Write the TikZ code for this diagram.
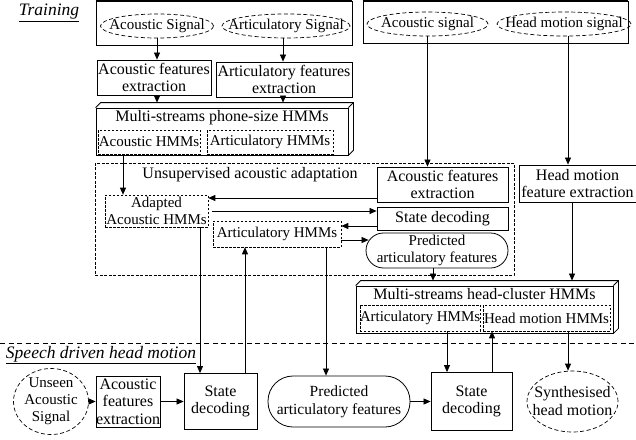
\documentclass[tikz,border=0pt]{standalone}
\usepackage{fontspec}
\setmainfont{Liberation Serif}
\usetikzlibrary{shapes.geometric, arrows.meta, calc}

\begin{document}
\begin{tikzpicture}[
    x=1pt, y=-1pt,
    font=\fontsize{16}{17.5}\selectfont,
    every node/.style={inner sep=0pt, align=center},
    block/.style={draw, line width=0.8pt, rectangle},
    model/.style={draw, line width=0.6pt, dash pattern=on 2.5pt off 1.5pt, rectangle, font=\fontsize{15}{17}\selectfont},
    region/.style={draw, line width=0.6pt, dash pattern=on 3pt off 1.5pt, rectangle},
    signal/.style={draw, line width=0.7pt, dash pattern=on 4pt off 2.5pt, ellipse, inner xsep=-20pt, inner ysep=-12pt, font=\fontsize{15}{17}\selectfont},
    feat/.style={draw, line width=0.8pt, rectangle, font=\fontsize{15}{17}\selectfont},
    section/.style={font=\fontsize{17.5}{19}\selectfont\itshape},
    flow/.style={-{Triangle[length=7pt,width=6pt]}, line width=0.7pt},
]
    \useasboundingbox (0,0) rectangle (636,439);

    % Section labels
    \node[section] (train) at (49,13) {\underline{Training}};
    \node[section] (speech) at (101,355) {\underline{Speech driven head motion}};
    \coordinate (sepl) at (0,343);
    \coordinate (sepr) at (636,343);
    \draw[line width=0.6pt, dash pattern=on 5pt off 3.5pt] (sepl) -- (sepr);

    % Training sources
    \node[block, minimum width=256, minimum height=44] (trainsrc) at (224,23) {};
    \draw[line width=2pt] (trainsrc.north west) -- (trainsrc.north east);
    \node[signal, minimum width=113, minimum height=24] (acsig) at (157,26) {Acoustic Signal};
    \node[signal, minimum width=128, minimum height=24] (artsig) at (286,26) {Articulatory Signal};

    \node[block, minimum width=265, minimum height=42] (headsrc) at (495.5,22) {};
    \draw[line width=2pt] (headsrc.north west) -- (headsrc.north east);
    \node[signal, minimum width=121, minimum height=24] (acsig2) at (427.5,24) {Acoustic signal};
    \node[signal, minimum width=134, minimum height=24] (hmsig) at (564,24) {Head motion signal};

    % Feature extraction
    \node[block, minimum width=114, minimum height=35] (acfeat) at (154,77.5) {Acoustic features\\extraction};
    \node[block, minimum width=136, minimum height=35] (artfeat) at (284,79.5) {Articulatory features\\extraction};

    % Multi-streams phone-size HMMs
    \node[block, minimum width=252, minimum height=47] (phone) at (222,131.5) {};
    \draw[line width=0.8pt] (phone.north west) -- ++(5,-5) -- ($(phone.north east)+(5,-5)$) -- ($(phone.south east)+(5,-5)$) -- (phone.south east);
    \draw[line width=0.8pt] (phone.north east) -- ++(5,-5);
    \node (phonetitle) at (222,118) {Multi-streams phone-size HMMs};
    \node[model, minimum width=102, minimum height=24] (acHMM) at (149,142) {Acoustic HMMs};
    \node[model, minimum width=126, minimum height=24] (artHMM) at (270,142) {Articulatory HMMs};

    % Unsupervised acoustic adaptation
    \node[region, minimum width=419, minimum height=112] (adapt) at (304.5,219) {};
    \node (adapttitle) at (250,175) {Unsupervised acoustic adaptation};
    \node[block, minimum width=131, minimum height=35] (acfeat2) at (442.5,184.5) {Acoustic features\\extraction};
    \node[block, minimum width=131, minimum height=23] (statedec1) at (442.5,218.5) {State decoding};
    \node[feat, rounded corners=17.5pt, minimum width=142, minimum height=35] (predart1) at (437,250.5) {Predicted\\articulatory features};
    \node[model, minimum width=103, minimum height=32] (adaptHMM) at (156.5,211) {Adapted\\Acoustic HMMs};
    \node[model, minimum width=128, minimum height=26] (artHMM2) at (277,234) {Articulatory HMMs};

    \node[block, minimum width=117, minimum height=37] (hmfeat) at (577.5,183.5) {Head motion\\feature extraction};

    % Multi-streams head-cluster HMMs
    \node[block, minimum width=257, minimum height=47] (hc) at (484.5,309.5) {};
    \draw[line width=0.8pt] (hc.north west) -- ++(5,-5) -- ($(hc.north east)+(5,-5)$) -- ($(hc.south east)+(5,-5)$) -- (hc.south east);
    \draw[line width=0.8pt] (hc.north east) -- ++(5,-5);
    \node (hctitle) at (484.5,294) {Multi-streams head-cluster HMMs};
    \node[model, minimum width=116, minimum height=26] (artHMM3) at (420,318) {Articulatory HMMs};
    \node[model, minimum width=127, minimum height=26] (hmHMM) at (546.5,318) {Head motion HMMs};

    % Speech driven head motion
    \node[signal, minimum width=75, minimum height=66] (unseen) at (51,401.5) {Unseen\\Acoustic\\Signal};
    \node[block, minimum width=62, minimum height=51] (acfeat3) at (128,401.5) {Acoustic\\features\\extraction};
    \node[block, minimum width=73, minimum height=56] (statedec2) at (220.5,401.5) {State\\decoding};
    \node[feat, rounded corners=25pt, minimum width=142, minimum height=51, font=\fontsize{15.5}{18}\selectfont] (predart2) at (339,401.5) {Predicted\\articulatory features};
    \node[block, minimum width=81, minimum height=58] (statedec3) at (471.5,401.5) {State\\decoding};
    \node[signal, minimum width=91, minimum height=61, font=\fontsize{16}{18}\selectfont] (synth) at (572.5,401.5) {Synthesised\\head motion};

    % Training arrows
    \draw[flow] (acsig.south) -- ([xshift=3pt]acfeat.north);
    \draw[flow] ([xshift=-3pt]artsig.south) -- ([xshift=-1pt]artfeat.north);
    \draw[flow] ([xshift=3pt]acfeat.south) -- ([xshift=-65pt,yshift=5pt]phone.north);
    \draw[flow] ([xshift=-1pt]artfeat.south) -- ([xshift=61pt,yshift=5pt]phone.north);
    \draw[flow] ([xshift=-26pt]acHMM.south) -- ([xshift=-33.5pt]adaptHMM.north);
    \draw[flow] (acsig2.south) -- ([xshift=-15pt]acfeat2.north);
    \draw[flow] ([xshift=4pt]hmsig.south) -- ([xshift=-9.5pt]hmfeat.north);
    \draw[flow] ([yshift=-13.5pt]acfeat2.west) -- ([yshift=13pt]adaptHMM.east);
    \draw[flow] ([xshift=4pt]adaptHMM.east) -- ([yshift=7.5pt]statedec1.west);
    \draw[flow] ([yshift=-7.5pt]statedec1.west) -- ([yshift=8pt]artHMM2.east);
    \draw[flow] ([yshift=-6pt]artHMM2.east) -- ([xshift=3pt,yshift=10.5pt]predart1.west);
    \draw[flow] ([xshift=-4pt]predart1.south) -- ([xshift=-51.5pt,yshift=5pt]hc.north);
    \draw[flow] ([xshift=-5.5pt]hmfeat.south) -- ([xshift=87.5pt,yshift=5pt]hc.north);

    % Synthesis arrows
    \draw[flow] ([xshift=43.5pt]adaptHMM.south) -- ([xshift=-20.5pt]statedec2.north);
    \draw[flow] ([xshift=24.5pt]statedec2.north) -- ([xshift=-32pt]artHMM2.south);
    \draw[flow] ([xshift=49pt]artHMM2.south) -- ([xshift=-13pt]predart2.north);
    \draw[flow] ([xshift=27pt]artHMM3.south) -- ([xshift=-24.5pt]statedec3.north);
    \draw[flow] ([xshift=20.5pt]statedec3.north) -- ([xshift=-54.5pt]hmHMM.south);
    \draw[flow] ([xshift=21.5pt]hmHMM.south) -- ([xshift=-4.5pt]synth.north);
    \draw[flow] (unseen) -- (acfeat3);
    \draw[flow] (acfeat3) -- (statedec2);
    \draw[flow] (predart2) -- (statedec3);
\end{tikzpicture}
\end{document}
